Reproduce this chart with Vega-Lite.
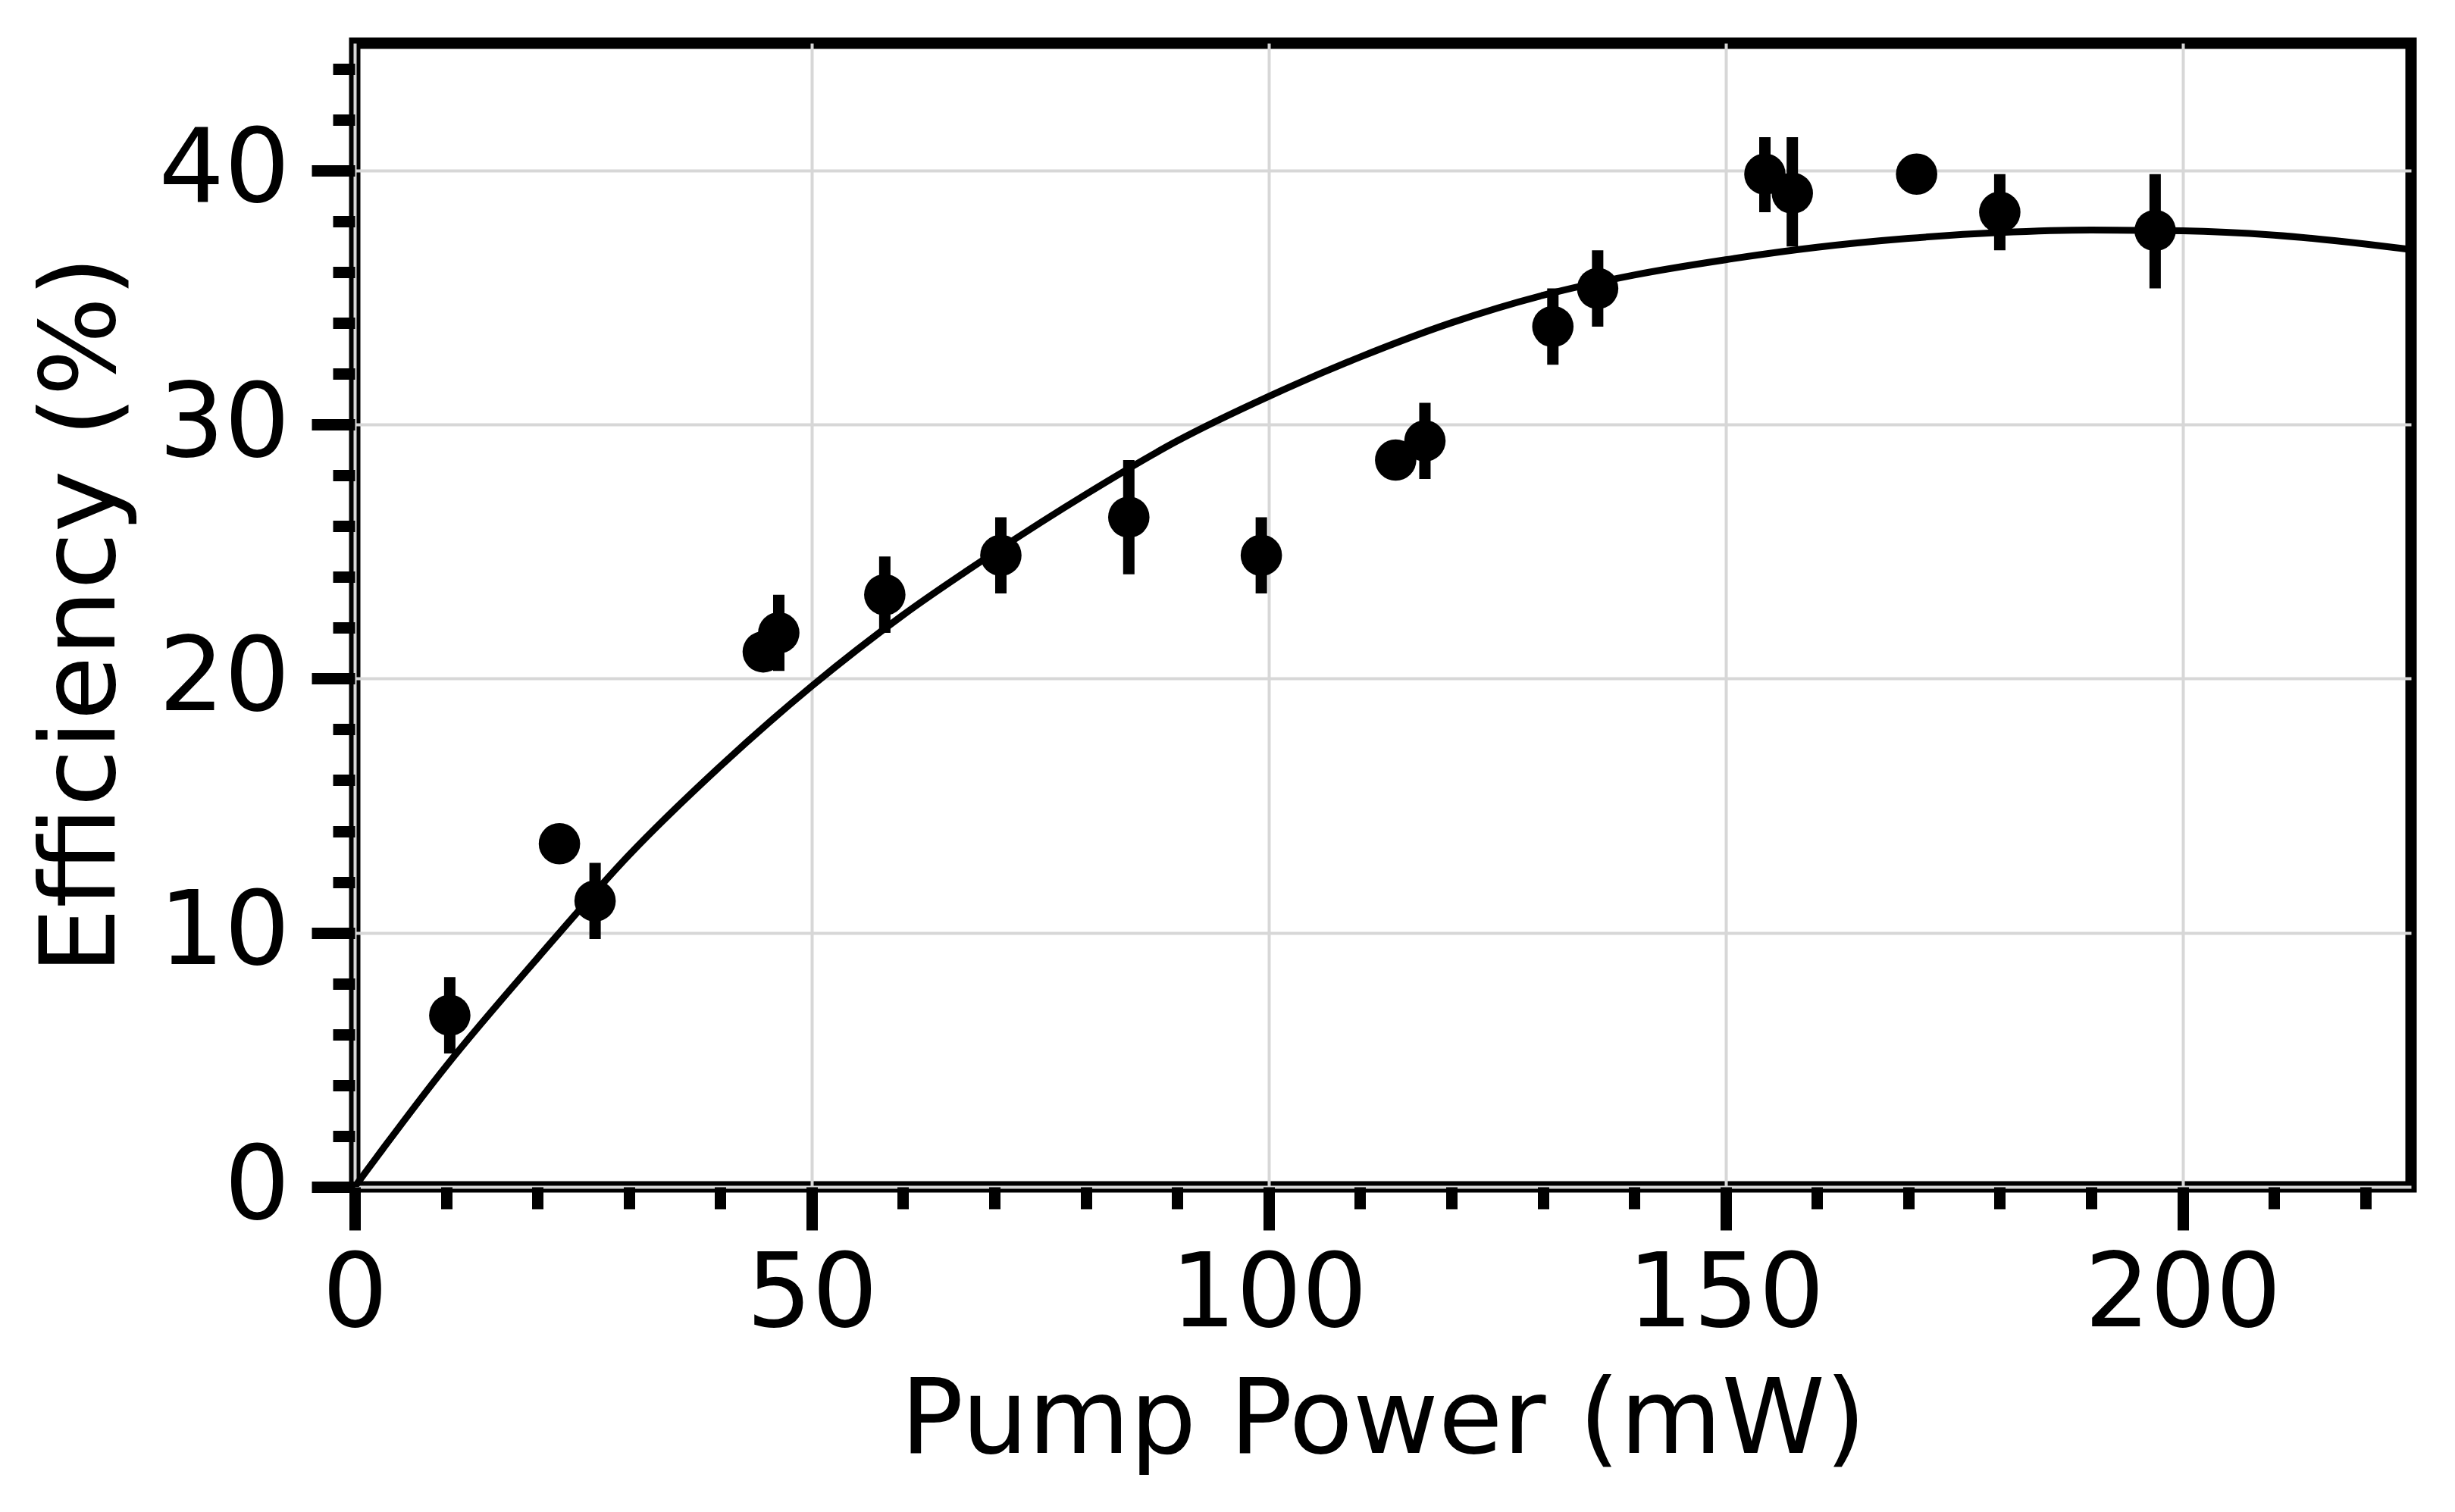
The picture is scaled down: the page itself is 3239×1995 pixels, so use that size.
{
  "$schema": "https://vega.github.io/schema/vega-lite/v6.json",
  "background": "white",
  "autosize": {"type": "none"},
  "padding": {"left": 468, "top": 57, "right": 58, "bottom": 429},
  "width": 2713,
  "height": 1509,
  "datasets": {
    "measurements": [
      {"power": 10.4, "eff": 6.75, "lo": 5.25, "hi": 8.25},
      {"power": 22.4, "eff": 13.5, "lo": null, "hi": null},
      {"power": 26.3, "eff": 11.25, "lo": 9.75, "hi": 12.75},
      {"power": 44.7, "eff": 21.05, "lo": null, "hi": null},
      {"power": 46.4, "eff": 21.8, "lo": 20.3, "hi": 23.3},
      {"power": 58.0, "eff": 23.3, "lo": 21.8, "hi": 24.8},
      {"power": 70.7, "eff": 24.85, "lo": 23.35, "hi": 26.35},
      {"power": 84.7, "eff": 26.35, "lo": 24.1, "hi": 28.6},
      {"power": 99.2, "eff": 24.85, "lo": 23.35, "hi": 26.35},
      {"power": 113.9, "eff": 28.6, "lo": null, "hi": null},
      {"power": 117.1, "eff": 29.35, "lo": 27.85, "hi": 30.85},
      {"power": 131.1, "eff": 33.85, "lo": 32.35, "hi": 35.35},
      {"power": 136.0, "eff": 35.35, "lo": 33.85, "hi": 36.85},
      {"power": 154.3, "eff": 39.85, "lo": 38.35, "hi": 41.3},
      {"power": 157.3, "eff": 39.1, "lo": 37.0, "hi": 41.3},
      {"power": 170.9, "eff": 39.85, "lo": null, "hi": null},
      {"power": 180.0, "eff": 38.35, "lo": 36.85, "hi": 39.85},
      {"power": 197.0, "eff": 37.63, "lo": 35.35, "hi": 39.85}
    ],
    "fit": [
      {"power": 0, "eff": 0},
      {"power": 10, "eff": 4.75},
      {"power": 20, "eff": 9.0},
      {"power": 30, "eff": 13.05},
      {"power": 40, "eff": 16.55},
      {"power": 50, "eff": 19.7},
      {"power": 60, "eff": 22.5},
      {"power": 70, "eff": 24.96},
      {"power": 80, "eff": 27.25},
      {"power": 90, "eff": 29.35},
      {"power": 100, "eff": 31.1},
      {"power": 110, "eff": 32.65},
      {"power": 120, "eff": 34.0},
      {"power": 130, "eff": 35.08},
      {"power": 140, "eff": 35.88},
      {"power": 150, "eff": 36.48},
      {"power": 160, "eff": 36.97},
      {"power": 170, "eff": 37.32},
      {"power": 180, "eff": 37.55},
      {"power": 190, "eff": 37.65},
      {"power": 200, "eff": 37.62},
      {"power": 210, "eff": 37.45},
      {"power": 220, "eff": 37.1},
      {"power": 225, "eff": 36.88}
    ]
  },
  "layer": [
    {
      "data": {"name": "fit"},
      "mark": {"type": "line", "color": "black", "strokeWidth": 9, "interpolate": "monotone", "clip": true},
      "encoding": {
        "x": {
          "field": "power", "type": "quantitative",
          "scale": {"domain": [0, 225], "nice": false, "zero": false},
          "axis": {
            "orient": "bottom", "title": null, "labels": false, "grid": false, "domain": false,
            "values": [10, 20, 30, 40, 60, 70, 80, 90, 110, 120, 130, 140, 160, 170, 180, 190, 210, 220],
            "tickSize": 29, "tickWidth": 15, "tickColor": "black"
          }
        },
        "y": {
          "field": "eff", "type": "quantitative",
          "scale": {"domain": [0, 45], "nice": false, "zero": false},
          "axis": {
            "orient": "left", "title": null, "labels": false, "grid": false, "domain": false,
            "values": [2, 4, 6, 8, 12, 14, 16, 18, 22, 24, 26, 28, 32, 34, 36, 38, 42, 44],
            "tickSize": 29, "tickWidth": 15, "tickColor": "black"
          }
        }
      }
    },
    {
      "data": {"name": "measurements"},
      "transform": [{"filter": "datum.lo != null"}],
      "mark": {"type": "rule", "color": "black", "strokeWidth": 15},
      "encoding": {
        "x": {"field": "power", "type": "quantitative", "axis": null},
        "y": {"field": "lo", "type": "quantitative", "axis": null},
        "y2": {"field": "hi"}
      }
    },
    {
      "data": {"name": "measurements"},
      "mark": {"type": "circle", "color": "black", "opacity": 1, "size": 2980},
      "encoding": {
        "x": {
          "field": "power", "type": "quantitative",
          "axis": {
            "orient": "bottom", "title": "Pump Power (mW)",
            "values": [0, 50, 100, 150, 200], "format": "d",
            "grid": true, "gridColor": "#d7d7d7", "gridWidth": 4, "domain": false,
            "tickSize": 57, "tickWidth": 15, "tickColor": "black",
            "labelFont": "DejaVu Sans", "labelFontSize": 136, "labelColor": "black", "labelPadding": 19,
            "labelFlush": false, "labelOverlap": false, "labelLimit": 1000,
            "titleFont": "DejaVu Sans", "titleFontSize": 138, "titleFontWeight": "normal", "titleColor": "black", "titlePadding": 41
          }
        },
        "y": {
          "field": "eff", "type": "quantitative",
          "axis": {
            "orient": "left", "title": "Efficiency (%)",
            "values": [0, 10, 20, 30, 40], "format": "d",
            "grid": true, "gridColor": "#d7d7d7", "gridWidth": 4, "domain": false,
            "tickSize": 57, "tickWidth": 15, "tickColor": "black",
            "labelFont": "DejaVu Sans", "labelFontSize": 136, "labelColor": "black", "labelPadding": 29,
            "labelFlush": false, "labelOverlap": false, "labelLimit": 1000,
            "titleFont": "DejaVu Sans", "titleFontSize": 138, "titleFontWeight": "normal", "titleColor": "black",
            "titleX": -318, "titleY": 754, "titleAngle": 270, "titleAlign": "center", "titleBaseline": "alphabetic"
          }
        }
      }
    }
  ],
  "resolve": {"axis": {"x": "independent", "y": "independent"}},
  "config": {
    "view": {"stroke": "black", "strokeWidth": 15}
  }
}
